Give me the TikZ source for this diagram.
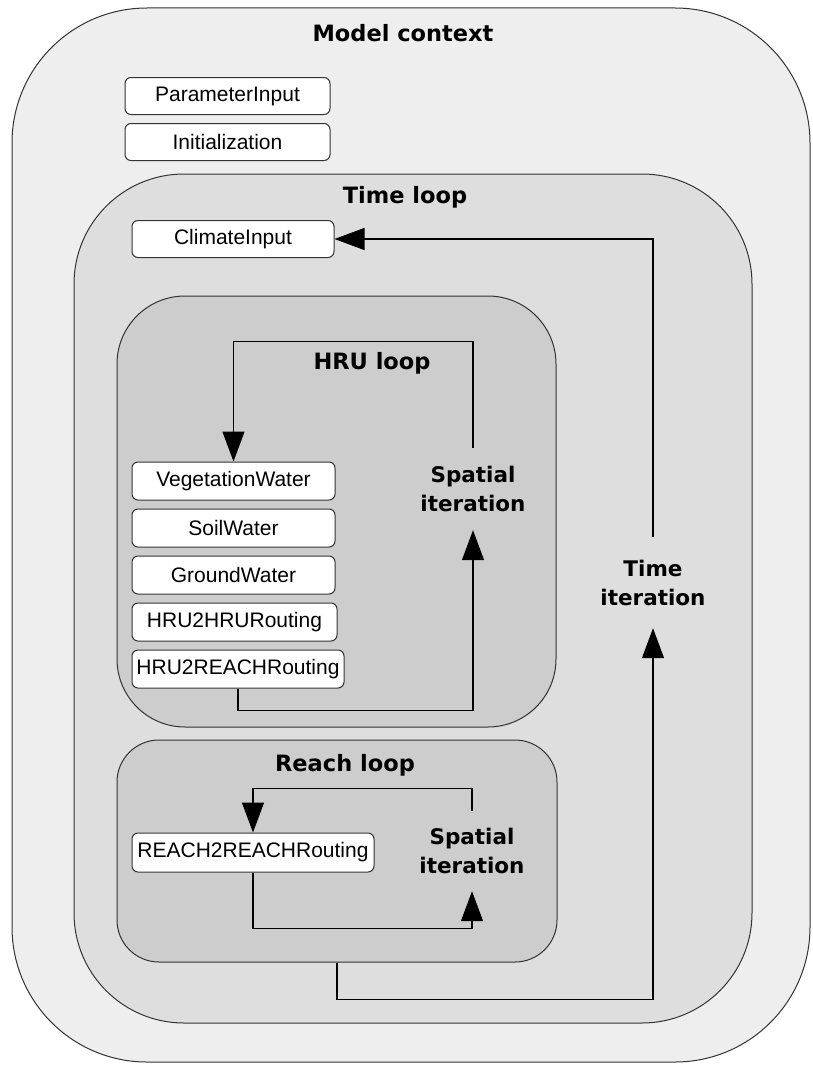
\documentclass[tikz,border=0pt]{standalone}
\usepackage{fontspec}
\setmainfont{Liberation Sans}
\newfontfamily\titlefont{DejaVu Sans}
\usepackage{tikz}
\usetikzlibrary{positioning,arrows.meta}
\definecolor{ctxgray}{HTML}{EEEEEE}
\definecolor{timegray}{HTML}{DEDEDE}
\definecolor{loopgray}{HTML}{CDCDCD}
\definecolor{edgegray}{HTML}{333333}

\begin{document}
\begin{tikzpicture}[x=1pt,y=-1pt,node distance=8pt,
    frame/.style={rectangle,draw=edgegray,line width=1pt,inner sep=0pt},
    compbox/.style={rectangle,rounded corners=6pt,draw=edgegray,fill=white,
                    line width=1pt,minimum width=203pt,minimum height=37pt,
                    inner sep=1pt,font=\fontsize{21}{25}\selectfont},
    looptitle/.style={font=\titlefont\bfseries\fontsize{22.5}{29}\selectfont},
    looplabel/.style={align=center,inner sep=0pt,
                      font=\titlefont\bfseries\fontsize{21.5}{29}\selectfont},
    flow/.style={-{Triangle[width=22pt,length=30pt]},line width=1.2pt,draw=black}]
    \useasboundingbox (0,0) rectangle (813,1065);
    % nested contexts
    \node[frame,fill=ctxgray,minimum width=798pt,minimum height=1054pt,
          rounded corners=135pt] (ctx) at (411,535) {};
    \node[frame,fill=timegray,minimum width=678pt,minimum height=849pt,
          rounded corners=110pt] (time) at (413,598.5) {};
    \node[frame,fill=loopgray,minimum width=439pt,minimum height=431pt,
          rounded corners=68pt] (hru) at (336.5,511.5) {};
    \node[frame,fill=loopgray,minimum width=440pt,minimum height=222pt,
          rounded corners=42pt] (reach) at (337,851) {};
    \node[looptitle] (ctxtitle) at (403,33) {Model context};
    \node[looptitle] (timetitle) at (405,197) {Time loop};
    \node[looptitle] (hrutitle) at (372,363) {HRU loop};
    \node[looptitle] (reachtitle) at (345,765) {Reach loop};
    % components
    \node[compbox,minimum width=205pt] (param) at (227.5,96) {ParameterInput};
    \node[compbox,minimum width=205pt,below=of param] (init) {Initialization};
    \node[compbox,minimum width=202pt] (climate) at (233,239) {ClimateInput};
    \node[compbox,minimum height=38pt] (veg) at (233.5,481) {VegetationWater};
    \node[compbox,minimum height=38pt,below=of veg] (soil) {SoilWater};
    \node[compbox,minimum height=38pt,below=of soil] (ground) {GroundWater};
    \node[compbox,minimum height=38pt,minimum width=205pt,
          below=of ground.south west,anchor=north west] (hruhru) {HRU2HRURouting};
    \node[compbox,minimum height=38pt,minimum width=212pt,
          below=of hruhru.south west,anchor=north west] (hrureach) {HRU2REACHRouting};
    \node[compbox,minimum height=39pt,minimum width=242pt] (reachreach) at (253,852.5)
      {REACH2REACHRouting};
    % iterations
    \node[looplabel,minimum height=82pt] (hruiter) at (473,489) {Spatial\\iteration};
    \node[looplabel,minimum height=80pt] (reachiter) at (472,851) {Spatial\\iteration};
    \node[looplabel,minimum height=91pt] (timeiter) at (653,582.5) {Time\\iteration};
    \draw[flow] (hrureach.south) -- ++(0,22) -| (hruiter.south);
    \draw[flow] (hruiter.north) -- ++(0,-106) -| (veg.north);
    \draw[flow] (reachreach.south) -- ++(0,56) -| (reachiter.south);
    \draw[flow] (reachiter.north) -- ++(0,-22) -| (reachreach.north);
    \draw[flow] (reach.south) -- ++(0,37) -| (timeiter.south);
    \draw[flow] (timeiter.north) |- (climate.east);
\end{tikzpicture}
\end{document}
